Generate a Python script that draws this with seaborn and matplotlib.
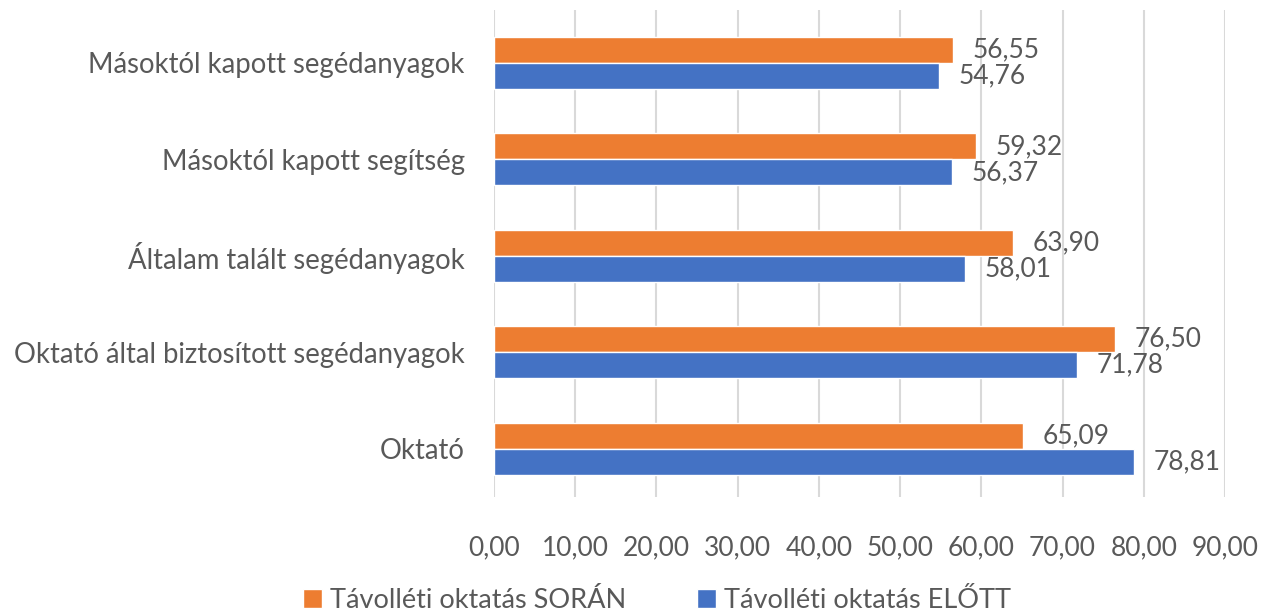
import pandas as pd
import matplotlib.pyplot as plt
import seaborn as sns

categories = [
    "Másoktól kapott segédanyagok",
    "Másoktól kapott segítség",
    "Általam talált segédanyagok",
    "Oktató által biztosított segédanyagok",
    "Oktató",
]
soran = [56.55, 59.32, 63.90, 76.50, 65.09]
elott = [54.76, 56.37, 58.01, 71.78, 78.81]
series_names = ["Távolléti oktatás SORÁN", "Távolléti oktatás ELŐTT"]
xticks = [0, 10, 20, 30, 40, 50, 60, 70, 80, 90]

data = pd.DataFrame({
    "kategoria": categories * 2,
    "ertek": soran + elott,
    "sorozat": [series_names[0]] * len(categories) + [series_names[1]] * len(categories),
})

sns.set_theme(style="white")
plt.rcParams["font.family"] = ["Lato", "DejaVu Sans"]
text_color = "#595959"
fs = 19

fig = plt.figure(figsize=(12.63, 6.15), dpi=100)
ax = fig.add_axes([0.391, 0.192, 0.579, 0.792])

sns.barplot(data=data, y="kategoria", x="ertek", hue="sorozat",
            order=categories, hue_order=series_names,
            palette=["#ED7D31", "#4472C4"], width=0.54,
            saturation=1, ax=ax, legend=True)

for container in ax.containers:
    ax.bar_label(container,
                 labels=[f"{v:.2f}".replace(".", ",") for v in container.datavalues],
                 padding=14, fontsize=fs, color=text_color)

ax.set_xlim(0, 90)
ax.set_xticks(xticks)
ax.set_xticklabels([f"{t:.2f}".replace(".", ",") for t in xticks])
ax.set_ylim(4.5, -0.55)
ax.grid(axis="x", color="#D9D9D9", linewidth=1.5)
ax.set_axisbelow(True)
for s in ax.spines.values():
    s.set_visible(False)
ax.tick_params(axis="both", length=0, labelsize=fs, colors=text_color)
ax.tick_params(axis="y", labelsize=19.8)
ax.tick_params(axis="x", pad=28)
ax.tick_params(axis="y", pad=21)
ax.set_xlabel("")
ax.set_ylabel("")

handles, labels = ax.get_legend_handles_labels()
ax.legend(handles, labels, loc="lower center", bbox_to_anchor=(0.52, -0.015),
          bbox_transform=fig.transFigure, ncol=2, frameon=False,
          fontsize=19.5, labelcolor=text_color, handlelength=0.7, handleheight=0.7,
          handletextpad=0.3, columnspacing=2.6, borderaxespad=0.0)

fig.savefig("out.png", dpi=100)
